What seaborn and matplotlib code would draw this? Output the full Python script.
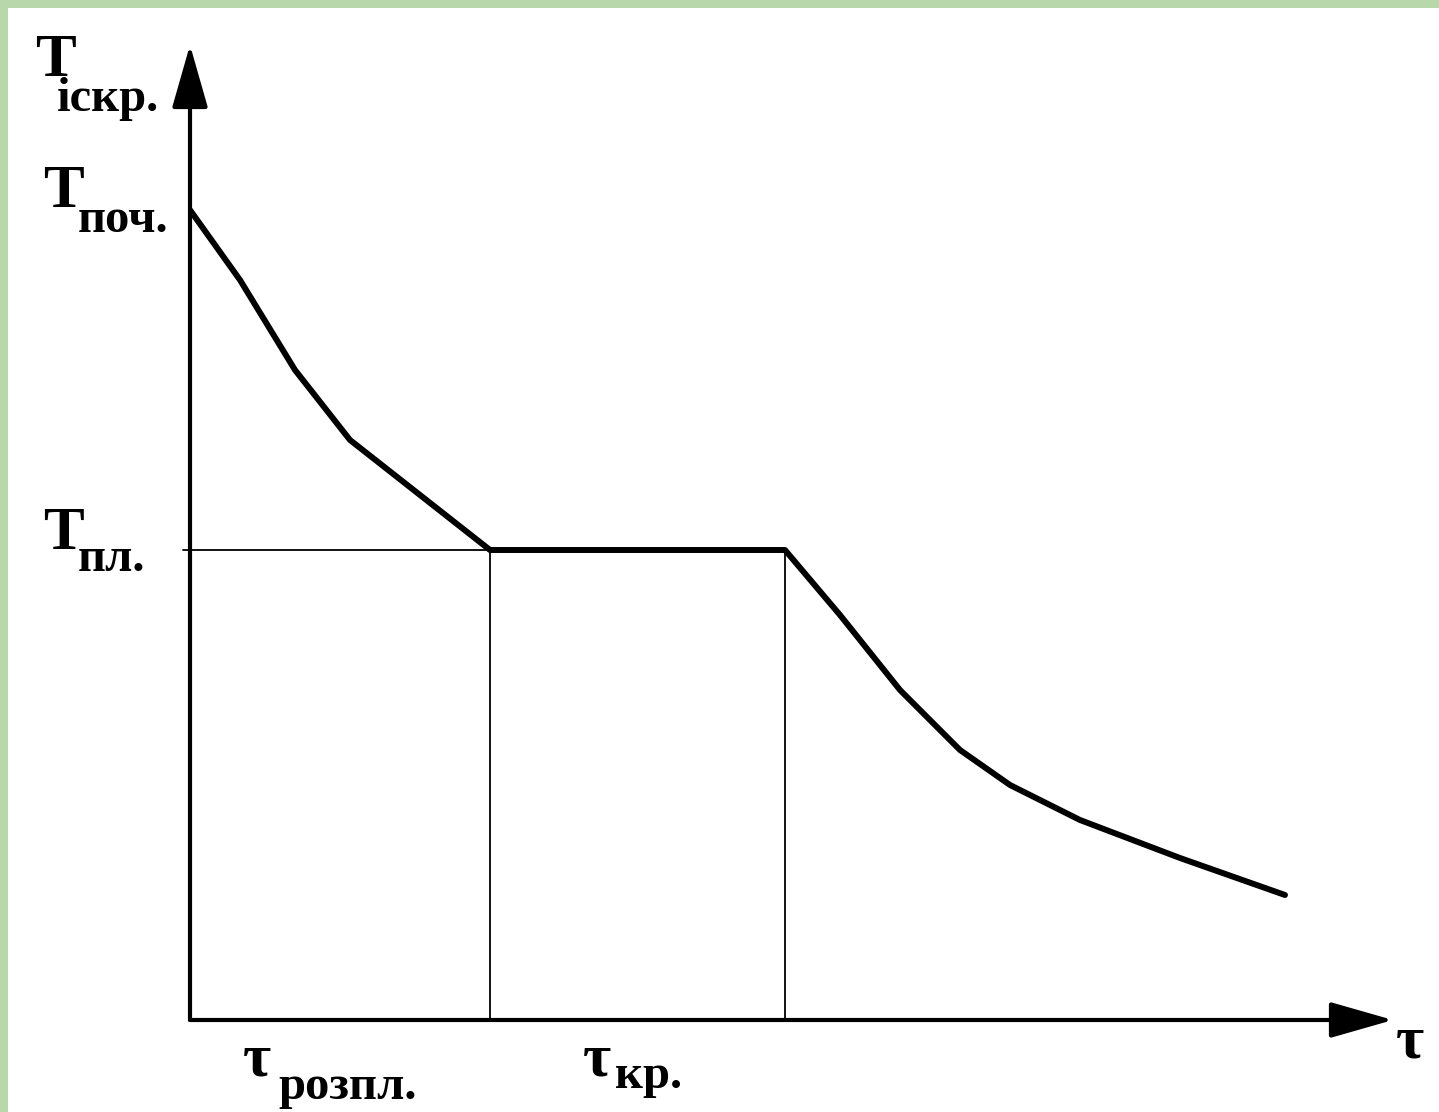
import matplotlib
matplotlib.use("Agg")
import matplotlib.pyplot as plt
import matplotlib.patches as mpatches
import pandas as pd
import seaborn as sns

sns.set_style("white")
plt.rcParams["font.family"] = ["Liberation Serif", "DejaVu Serif"]
plt.rcParams["text.color"] = "black"

# Cooling curve (arbitrary units)
time = [0, 5, 10.5, 16, 23, 30, 59.5, 65, 71, 77, 82, 89, 99, 109.5]
temp = [81, 74, 65, 58, 52.5, 47, 47, 40.5, 33, 27, 23.5, 20, 16.2, 12.5]

t_start = 81        # T поч.
t_melt = 47         # T пл.
tau_melt_end = 30   # end of melting-down stage
tau_cryst_end = 59.5  # end of crystallisation

curve = pd.DataFrame({"time": time, "temp": temp})

fig = plt.figure(figsize=(14.39, 11.12), dpi=100)
fig.patch.set_facecolor("#b8d7ab")
fig.patches.append(mpatches.Rectangle((8 / 1439, 0), 1, 1 - 8 / 1112,
                                      transform=fig.transFigure,
                                      facecolor="white", edgecolor="none", zorder=-10))

ax = fig.add_axes([190 / 1439, 92 / 1112, 1203 / 1439, 975 / 1112])
ax.set_facecolor("none")
ax.set_zorder(5)
ax.set_xlim(0, 120.3)
ax.set_ylim(0, 97.5)
for s in ax.spines.values():
    s.set_visible(False)
ax.set_xticks([])
ax.set_yticks([])

# guide lines
ax.plot([-0.7, tau_melt_end], [t_melt, t_melt], color="black", lw=1.3, clip_on=False)
ax.plot([tau_melt_end, tau_melt_end], [0, t_melt], color="black", lw=1.3)
ax.plot([tau_cryst_end, tau_cryst_end], [0, t_melt], color="black", lw=1.3)

sns.lineplot(data=curve, x="time", y="temp", ax=ax, color="black", lw=4.3,
             sort=False, estimator=None)
ax.set_xlabel("")
ax.set_ylabel("")

# axes with arrows
arrow = dict(arrowstyle="-|>,head_length=1.4,head_width=0.4", lw=3, color="black",
             mutation_scale=28, shrinkA=0, shrinkB=0)
ax.annotate("", xy=(1, 0), xytext=(0, 0), xycoords="axes fraction", arrowprops=arrow)
ax.annotate("", xy=(0, 1), xytext=(0, 0), xycoords="axes fraction", arrowprops=arrow)

big = dict(fontsize=44, fontweight="bold", clip_on=False)
small = dict(fontsize=35, fontweight="bold", clip_on=False)

# y labels
ax.text(-15.5, 94.4, "T", ha="left", va="baseline", **big)
ax.text(-13.3, 90.9, "іскр.", ha="left", va="baseline", **small)
ax.text(-14.7, t_start + 0.3, "T", ha="left", va="baseline", **big)
ax.text(-11.2, t_start - 2.2, "поч.", ha="left", va="baseline", **small)
ax.text(-14.7, t_melt + 0.1, "T", ha="left", va="baseline", **big)
ax.text(-11.2, t_melt - 2.1, "пл.", ha="left", va="baseline", **small)

# x labels
ax.text(5.3, -5.6, "τ", ha="left", va="baseline", **big)
ax.text(8.8, -7.9, "розпл.", ha="left", va="baseline", **small)
ax.text(39.3, -5.6, "τ", ha="left", va="baseline", **big)
ax.text(42.5, -6.8, "кр.", ha="left", va="baseline", **small)
ax.text(120.6, -3.7, "τ", ha="left", va="baseline", **big)

fig.savefig("out.png", dpi=100, facecolor=fig.get_facecolor())
